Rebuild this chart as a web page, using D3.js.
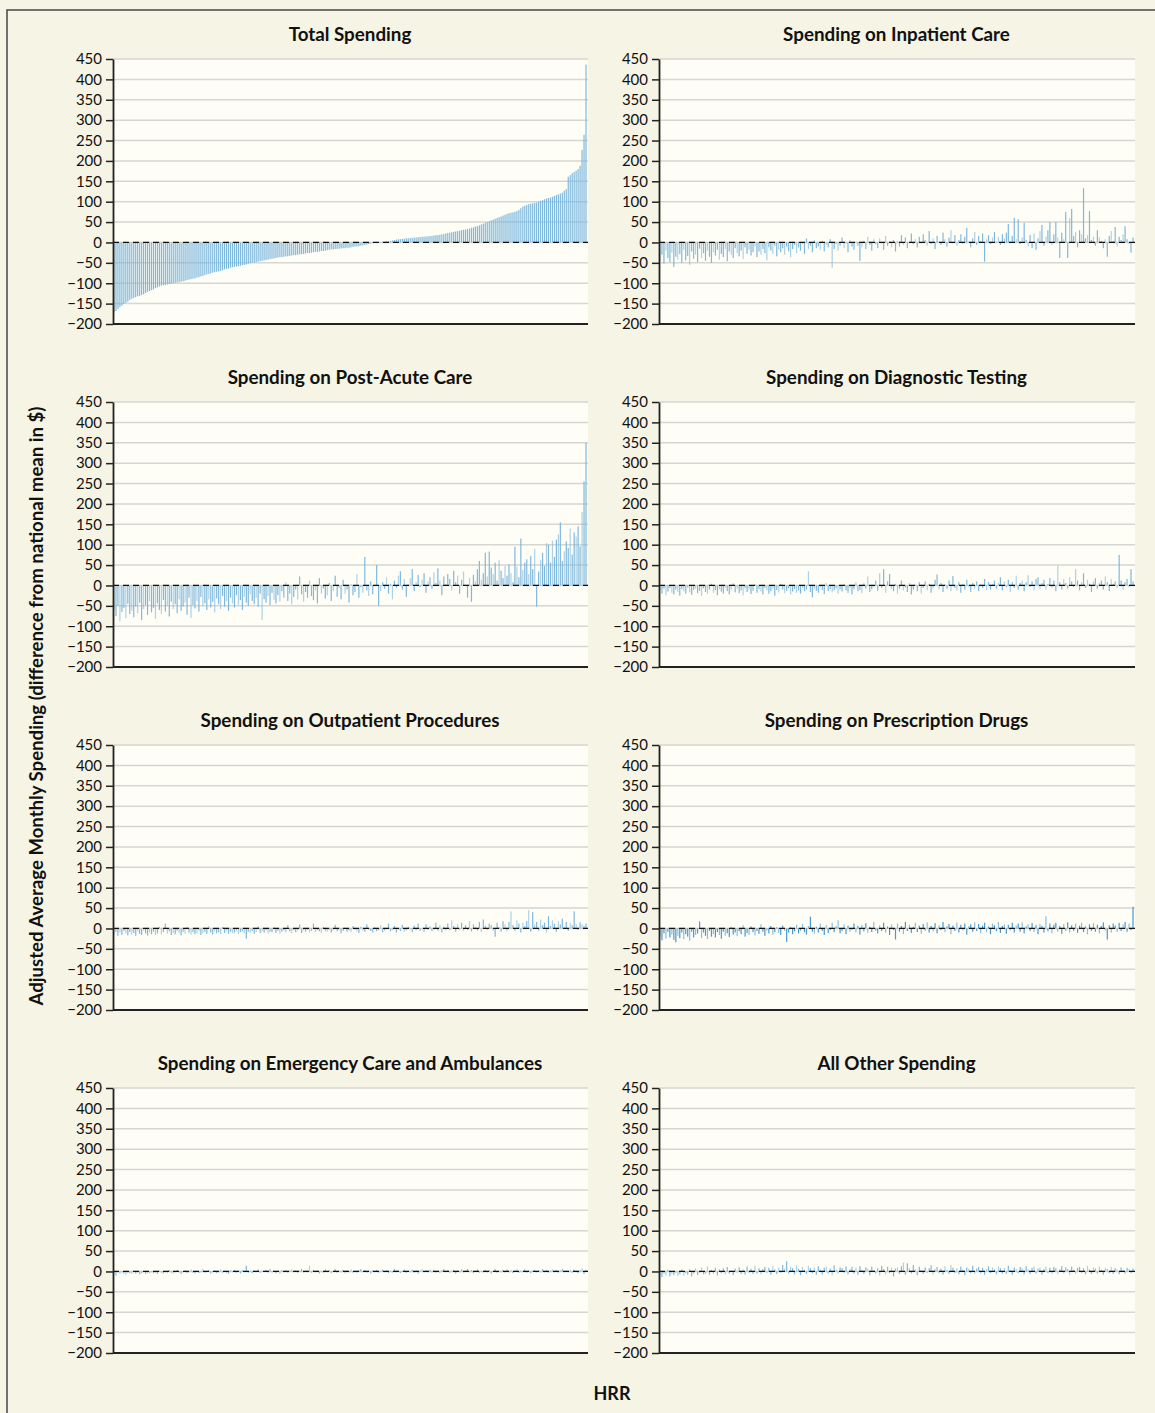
<!DOCTYPE html>
<html>
  <head>
    <meta http-equiv="content-type" content="text/html; charset=UTF-8">
    <title>HRR spending</title>
    <script type='text/javascript' src='https://cdn.jsdelivr.net/npm/d3@7'></script>
    <style type='text/css'>
      body { margin: 0; background-color: #f6f4e4; }
      svg text { font-family: Lato, "Open Sans", sans-serif; fill: #111; }
    </style>
  </head>
  <body>
    <script type='text/javascript'>
      // one value per HRR, HRRs ordered by total spending
      var total = [
        -172,-168,-163,-158,-155,-151,-148,-145,-141,-138,
        -136,-134,-132,-131,-129,-127,-124,-121,-119,-117,
        -115,-112,-110,-108,-106,-105,-104,-103,-102,-101,
        -100,-99,-98,-97,-96,-95,-94,-92,-91,-90,
        -89,-88,-86,-85,-83,-82,-80,-78,-77,-76,
        -74,-73,-72,-71,-70,-68,-66,-65,-64,-62,
        -61,-60,-59,-58,-57,-56,-55,-54,-52,-51,
        -50,-49,-48,-47,-46,-45,-44,-43,-42,-41,
        -40,-39,-38,-37,-36,-36,-35,-34,-34,-33,
        -32,-31,-31,-30,-29,-29,-28,-27,-26,-26,
        -25,-24,-23,-23,-22,-21,-21,-20,-19,-18,
        -17,-17,-16,-16,-15,-15,-14,-14,-13,-13,
        -12,-11,-10,-10,-9,-8,-7,-6,-5,-4,
        -3,-2,-1,0,1,1,2,2,3,3,
        4,5,6,7,8,8,9,9,10,10,
        11,11,12,12,13,13,14,14,15,15,
        16,16,17,18,18,19,20,21,22,23,
        24,25,26,27,28,29,30,31,32,33,
        34,36,37,39,40,42,44,46,48,50,
        52,54,56,58,60,62,64,66,68,70,
        72,73,74,75,77,80,84,88,90,92,
        94,95,96,97,98,100,102,104,106,108,
        109,110,112,114,116,118,120,122,127,131,
        161,165,170,173,176,180,188,227,264,436
      ];
      var inpatient = [
        -45,-30,-52,-20,-38,-48,-25,-60,-35,-42,
        -28,-50,-18,-44,-33,-55,-22,-40,-30,-48,
        -15,-38,-26,-45,-20,-35,-50,-24,-32,-18,
        -42,-28,-36,-16,-46,-22,-30,-38,-14,-26,
        -34,-20,-40,-12,-28,-18,-32,-24,-10,-36,
        -22,-30,-16,-26,-44,-12,-20,-28,-8,-34,
        -18,-24,-14,-30,-10,-22,-36,-16,-6,-26,
        -12,-20,-4,-28,10,-16,-8,-24,6,-14,
        -10,-18,4,-22,-6,-12,8,-62,-16,-4,
        -20,-8,12,-14,-2,-24,6,-10,-18,2,
        -8,-45,-12,4,-16,14,-6,-20,8,-4,
        -14,10,-2,-18,16,-8,2,-12,6,-22,
        4,-10,18,-6,12,-14,2,22,-4,8,
        -12,14,-2,20,6,-8,28,-4,10,-16,
        16,2,-6,24,8,-10,12,30,-2,18,
        -8,6,20,-4,14,36,2,-12,10,26,
        -6,16,4,22,-47,8,18,-4,12,26,
        2,14,-6,20,10,24,45,4,16,60,
        8,57,-4,12,48,6,-10,18,-14,22,
        -18,10,28,43,-8,14,30,50,-6,20,
        50,12,-38,24,8,75,-38,60,82,16,
        26,-12,30,20,133,10,18,77,6,14,
        -8,30,12,4,-14,8,-35,16,28,4,
        38,-10,14,6,20,40,8,-4,-25,12
      ];
      var postAcute = [
        -60,-75,-50,-88,-65,-55,-80,-45,-70,-62,
        -78,-52,-68,-42,-85,-58,-48,-72,-38,-66,
        -55,-82,-44,-60,-70,-36,-64,-50,-76,-40,
        -58,-46,-68,-34,-62,-52,-42,-72,-30,-80,
        -48,-56,-38,-64,-28,-50,-44,-60,-34,-54,
        -40,-66,-32,-46,-58,-26,-52,-38,-62,-30,
        -44,-54,-24,-48,-36,-60,-28,-42,-50,-22,
        -38,-46,-30,-52,-20,-85,-34,-42,-26,-48,
        -18,-36,-44,-24,-40,-14,-30,8,-38,-20,
        -46,-28,-10,-34,22,-22,-40,-16,-30,12,
        -26,-36,-12,-44,18,-20,-8,-32,-24,6,
        -38,-14,24,-28,-6,-34,14,-20,-10,-42,
        4,-24,-16,28,-30,-4,-18,70,-12,-26,
        10,-22,-2,50,-50,-14,8,-8,20,-20,
        4,-34,12,-6,24,35,-10,16,-28,2,
        18,40,-14,8,26,-4,14,30,-18,10,
        20,-8,32,6,42,12,-24,22,4,28,
        16,-12,36,8,24,-20,14,34,2,-30,
        18,-40,26,10,40,60,14,30,80,22,
        83,44,28,56,12,62,36,18,48,24,
        52,30,8,95,46,20,115,38,56,64,
        28,72,40,90,-52,34,62,80,48,104,
        100,56,110,70,112,125,155,60,84,108,
        92,140,76,130,120,145,96,180,255,350
      ];
      var diagnostic = [
        -12,-20,-8,-24,-15,-6,-18,-22,-10,-16,
        -25,-9,-14,-20,-5,-17,-23,-11,-8,-19,
        -13,-26,-7,-16,-21,-10,4,-18,-12,-24,
        -9,-15,-20,-6,-14,-22,-11,5,-17,-8,
        -19,-12,-24,-7,-16,-10,-21,-13,3,-18,
        -9,-15,-22,-6,-12,-20,-14,-8,-25,-11,
        -17,4,-10,-19,-13,-7,-22,-15,-9,-18,
        -12,-20,-6,-14,-10,35,-16,-29,-8,-13,
        -18,-5,-11,-21,6,-14,-9,-17,-12,-7,
        -20,-10,-15,3,-12,-18,-6,-22,-9,8,
        -14,-11,-19,5,-8,22,-16,-10,-4,12,
        -13,30,-6,40,-18,10,28,-9,-14,4,
        -20,-8,12,-12,-5,-16,6,-22,-10,2,
        -14,8,-20,-6,10,-12,4,-18,-8,14,
        27,-10,6,-16,2,-8,12,-14,23,-6,
        -12,8,-18,4,-10,14,-4,-16,6,-8,
        10,-14,2,-6,16,-12,8,-10,4,12,
        -8,6,20,-12,10,-4,14,-16,8,-6,
        24,-10,6,12,-14,8,25,-4,10,-12,
        16,20,-8,6,14,-10,4,18,-6,12,
        -14,48,8,-10,16,6,-8,20,10,-4,
        40,12,-12,8,30,-6,14,4,-16,10,
        18,-8,6,12,-10,22,8,-14,16,4,
        10,-6,75,12,-10,8,16,-4,40,10
      ];
      var outpatient = [
        -14,-8,-18,-10,-16,-6,-12,-17,-9,-15,
        -11,-18,-7,-13,-16,-5,-12,-17,-10,-14,
        -8,-16,-12,4,-15,-9,12,-13,-7,-16,
        -11,-14,-6,-12,-17,-8,-13,3,-10,-15,
        -9,-14,-12,-5,-16,-11,-8,-13,6,-10,
        -15,-7,-12,-9,-14,4,-11,-6,-13,-8,
        -12,-10,-5,-14,-9,-7,-12,-25,-8,-11,
        -6,-13,-9,5,-11,-7,-10,-4,-12,-8,
        -9,3,-11,-6,-13,-8,-5,-10,8,-7,
        -12,-4,-9,-6,10,-11,-5,-8,-3,-10,
        -6,12,-9,-4,-7,-11,3,-6,-8,-3,
        -10,-5,9,-7,-4,-12,-6,2,-8,-5,
        -9,6,-3,-7,-11,4,-5,-8,10,-4,
        -6,-10,3,-7,-4,8,-9,-5,-2,12,
        -7,-4,6,-10,-3,-6,9,-8,-5,4,
        -3,-9,7,-5,12,-6,-2,-8,10,-4,
        5,-7,-3,14,-6,8,-10,4,-5,12,
        -4,20,6,-8,10,-3,14,-6,8,-4,
        18,-7,10,4,-5,16,-9,22,6,-4,
        12,8,-6,-20,14,4,-8,18,10,-5,
        16,42,8,-6,20,12,-10,14,6,18,
        45,-8,40,10,16,-5,22,8,14,-10,
        30,6,20,12,-8,18,10,24,4,16,
        -6,14,8,42,12,-4,15,10,6,12
      ];
      var drugs = [
        -20,-29,-12,-25,-8,-22,-15,-28,-34,-18,
        -24,-10,-26,-14,-20,-30,-8,-22,-16,-12,
        17,-24,-10,-18,-26,-6,-20,-14,-22,-9,
        -16,-25,-8,-18,-12,-21,4,-15,-10,-19,
        -7,-14,8,-20,-11,-16,5,-9,-17,-6,
        -13,10,-8,-18,-5,-12,6,-15,-9,3,
        -11,-16,7,-6,-33,-10,4,-14,-7,9,
        -12,-5,11,-9,-15,6,29,-8,-13,4,
        -10,12,-6,-16,8,-11,-4,14,-9,5,
        20,-12,-6,10,-14,7,-8,-3,12,-10,
        6,-15,9,-7,13,-11,4,-9,16,-5,
        -12,8,-6,14,-10,5,-16,10,-4,-27,
        12,-8,6,-14,16,-6,9,-11,4,14,
        -9,7,-13,11,-5,15,-10,6,-7,13,
        -12,8,-4,16,-9,5,11,-14,7,-6,
        14,-10,9,-5,12,-15,6,10,-8,15,
        -6,11,-12,7,14,-9,5,-14,12,8,
        -7,16,-11,6,10,-13,9,-5,14,-10,
        7,12,-8,15,-12,5,10,-6,13,-9,
        8,-14,11,6,-10,30,-7,12,-12,9,
        14,-8,6,-13,11,-5,15,-10,8,-6,
        12,-11,7,14,-9,5,-14,10,-6,13,
        -8,9,-12,6,15,-5,-27,8,-10,12,
        7,-9,14,-6,10,16,-8,12,-4,53
      ];
      var emergency = [
        -4,-10,-3,-6,-2,-5,-8,-3,-4,-6,
        -2,-5,-3,-7,-4,-2,-6,-3,-5,-2,
        -4,-3,-6,2,-3,-5,-2,-4,3,-3,
        -5,-2,4,-3,-6,-2,3,-4,-2,5,
        -3,-5,2,-4,-2,6,-3,-1,4,-5,
        -2,3,-4,-2,5,-3,2,-4,-6,3,
        -2,4,-3,2,-5,3,-2,14,-3,2,
        -4,3,-2,5,-3,2,-1,4,-3,6,
        -2,3,-4,2,-6,3,-2,4,-3,2,
        5,-2,3,-4,2,6,-3,2,-2,14,
        -3,4,-2,3,-5,2,-3,5,-2,3,
        -4,2,6,-3,2,-2,4,-5,3,-2,
        5,-3,2,-4,3,6,-2,4,-3,2,
        -5,3,-2,4,-3,2,5,-2,3,-4,
        2,-3,6,-2,3,-4,2,5,-3,2,
        -2,4,-3,3,-5,2,6,-2,3,-3,
        4,-2,5,-3,2,-4,3,6,-2,3,
        -3,2,4,-5,3,-2,5,-3,2,6,
        -2,3,-4,2,5,-3,2,-2,4,-3,
        3,-5,2,6,-3,2,-2,4,-3,5,
        -2,3,-4,2,6,-3,2,-2,5,-3,
        3,-4,2,5,-2,3,-3,6,-2,4,
        -3,2,5,-2,3,-4,2,6,-3,2,
        -2,4,-3,5,2,-4,3,8,-6,4
      ];
      var other = [
        -8,-14,-5,-10,4,-12,-6,-9,-3,-11,
        -7,5,-10,-4,-8,6,-12,-5,8,-9,
        -3,10,-7,-5,12,-8,4,-6,9,-10,
        6,-4,8,-7,11,-5,3,-9,7,-3,
        10,-6,5,-8,12,-4,7,-6,14,-5,
        8,-7,6,11,-4,9,-8,13,5,-6,
        10,-3,16,7,25,-5,12,8,-7,15,
        6,-9,11,4,-6,14,8,-4,10,-8,
        13,5,-7,9,12,-5,7,-9,15,4,
        -6,10,8,-4,12,-7,6,11,-5,9,
        -8,13,5,-6,10,7,-9,12,4,-5,
        8,-10,14,6,-7,11,-4,9,-12,7,
        10,-6,13,22,-8,20,8,-5,16,6,
        -9,12,4,-6,10,-4,8,15,-7,5,
        11,-5,7,-8,13,4,-6,16,9,-4,
        8,-7,12,5,-9,10,6,-4,14,-6,
        7,11,-5,9,-8,6,13,-4,10,5,
        -7,12,8,-5,9,-6,14,4,-8,10,
        6,-4,11,8,-7,13,5,-6,9,12,
        -5,7,10,-8,6,12,-4,9,-6,11,
        8,-7,5,13,-5,10,6,-9,12,4,
        -6,9,11,-4,8,-7,14,5,-6,10,
        7,-5,12,4,-8,9,6,-4,11,-6,
        8,5,-7,10,4,-5,9,6,-4,7
      ];

      var titles = ["Total Spending", "Spending on Inpatient Care",
        "Spending on Post-Acute Care", "Spending on Diagnostic Testing",
        "Spending on Outpatient Procedures", "Spending on Prescription Drugs",
        "Spending on Emergency Care and Ambulances", "All Other Spending"];
      var series = [total, inpatient, postAcute, diagnostic, outpatient, drugs, emergency, other];
      var yTicks = [-200, -150, -100, -50, 0, 50, 100, 150, 200, 250, 300, 350, 400, 450];

      var w = 1155, h = 1413;
      var svg = d3.select("body").append("svg").attr("width", w).attr("height", h);

      svg.append("rect").attr("width", w).attr("height", h).attr("fill", "#f6f4e4");
      svg.append("path").attr("d", "M7," + h + "V10H" + w)
        .attr("fill", "none").attr("stroke", "#444").attr("stroke-width", 1.5);

      var colX = [113, 659], plotW = [474, 475];
      var rowY = [59, 402, 745, 1088], plotH = 265;

      var hrr = d3.range(total.length);

      series.forEach(function(vals, k) {
        var col = k % 2, row = Math.floor(k / 2);
        var x0 = colX[col], y0 = rowY[row];
        var g = svg.append("g").attr("transform", "translate(" + x0 + "," + y0 + ")");

        var x = d3.scaleBand().domain(hrr).range([0, plotW[col]]).paddingInner(0.4).paddingOuter(0.2);
        var y = d3.scaleLinear().domain([-200, 450]).range([plotH, 0]);

        g.append("rect").attr("width", plotW[col] + 1).attr("height", plotH).attr("fill", "#fefdf6");

        g.selectAll(".grid").data(yTicks.filter(function(t) { return t !== -200; }))
          .enter().append("line")
          .attr("x1", 0).attr("x2", plotW[col] + 1)
          .attr("y1", function(d) { return y(d); }).attr("y2", function(d) { return y(d); })
          .attr("stroke", "#d6d6d2").attr("stroke-width", 1.5);

        var barColor = (k === 5) ? "#3f92cb" : "#78b4db";
        g.selectAll(".bar").data(vals).enter().append("rect")
          .attr("x", function(d, i) { return x(i); })
          .attr("width", x.bandwidth())
          .attr("y", function(d) { return y(Math.max(0, d)); })
          .attr("height", function(d) { return Math.abs(y(d) - y(0)); })
          .attr("fill", barColor)
          .attr("fill-opacity", function(d, i) { return (k === 0 || i % 3) ? 0.95 : 0.6; });

        g.append("line").attr("x1", 0).attr("x2", plotW[col] + 1)
          .attr("y1", y(0)).attr("y2", y(0))
          .attr("stroke", "#111").attr("stroke-width", 1.3).attr("stroke-dasharray", "6,4");

        g.append("line").attr("x1", 0).attr("x2", plotW[col] + 1)
          .attr("y1", plotH).attr("y2", plotH)
          .attr("stroke", "#222").attr("stroke-width", 1.8);

        var axis = g.append("g").call(d3.axisLeft(y).tickValues(yTicks).tickSize(7).tickSizeOuter(0).tickPadding(4));
        axis.select(".domain").attr("stroke", "#222").attr("stroke-width", 1.8);
        axis.selectAll(".tick line").attr("stroke", "#222").attr("stroke-width", 1.5);
        axis.selectAll(".tick text").attr("font-size", 15).attr("font-family", "Lato, sans-serif").attr("fill", "#111");

        g.append("text").attr("x", plotW[col] / 2).attr("y", -18)
          .attr("text-anchor", "middle").attr("font-size", 18.8).attr("font-weight", "bold")
          .text(titles[k]);
      });

      svg.append("text")
        .attr("transform", "translate(43,706) rotate(-90)")
        .attr("text-anchor", "middle").attr("font-size", 18.6).attr("font-weight", "bold")
        .text("Adjusted Average Monthly Spending (difference from national mean in $)");

      svg.append("text").attr("x", 612).attr("y", 1400)
        .attr("text-anchor", "middle").attr("font-size", 18).attr("font-weight", "bold")
        .text("HRR");
    </script>
  </body>
</html>
